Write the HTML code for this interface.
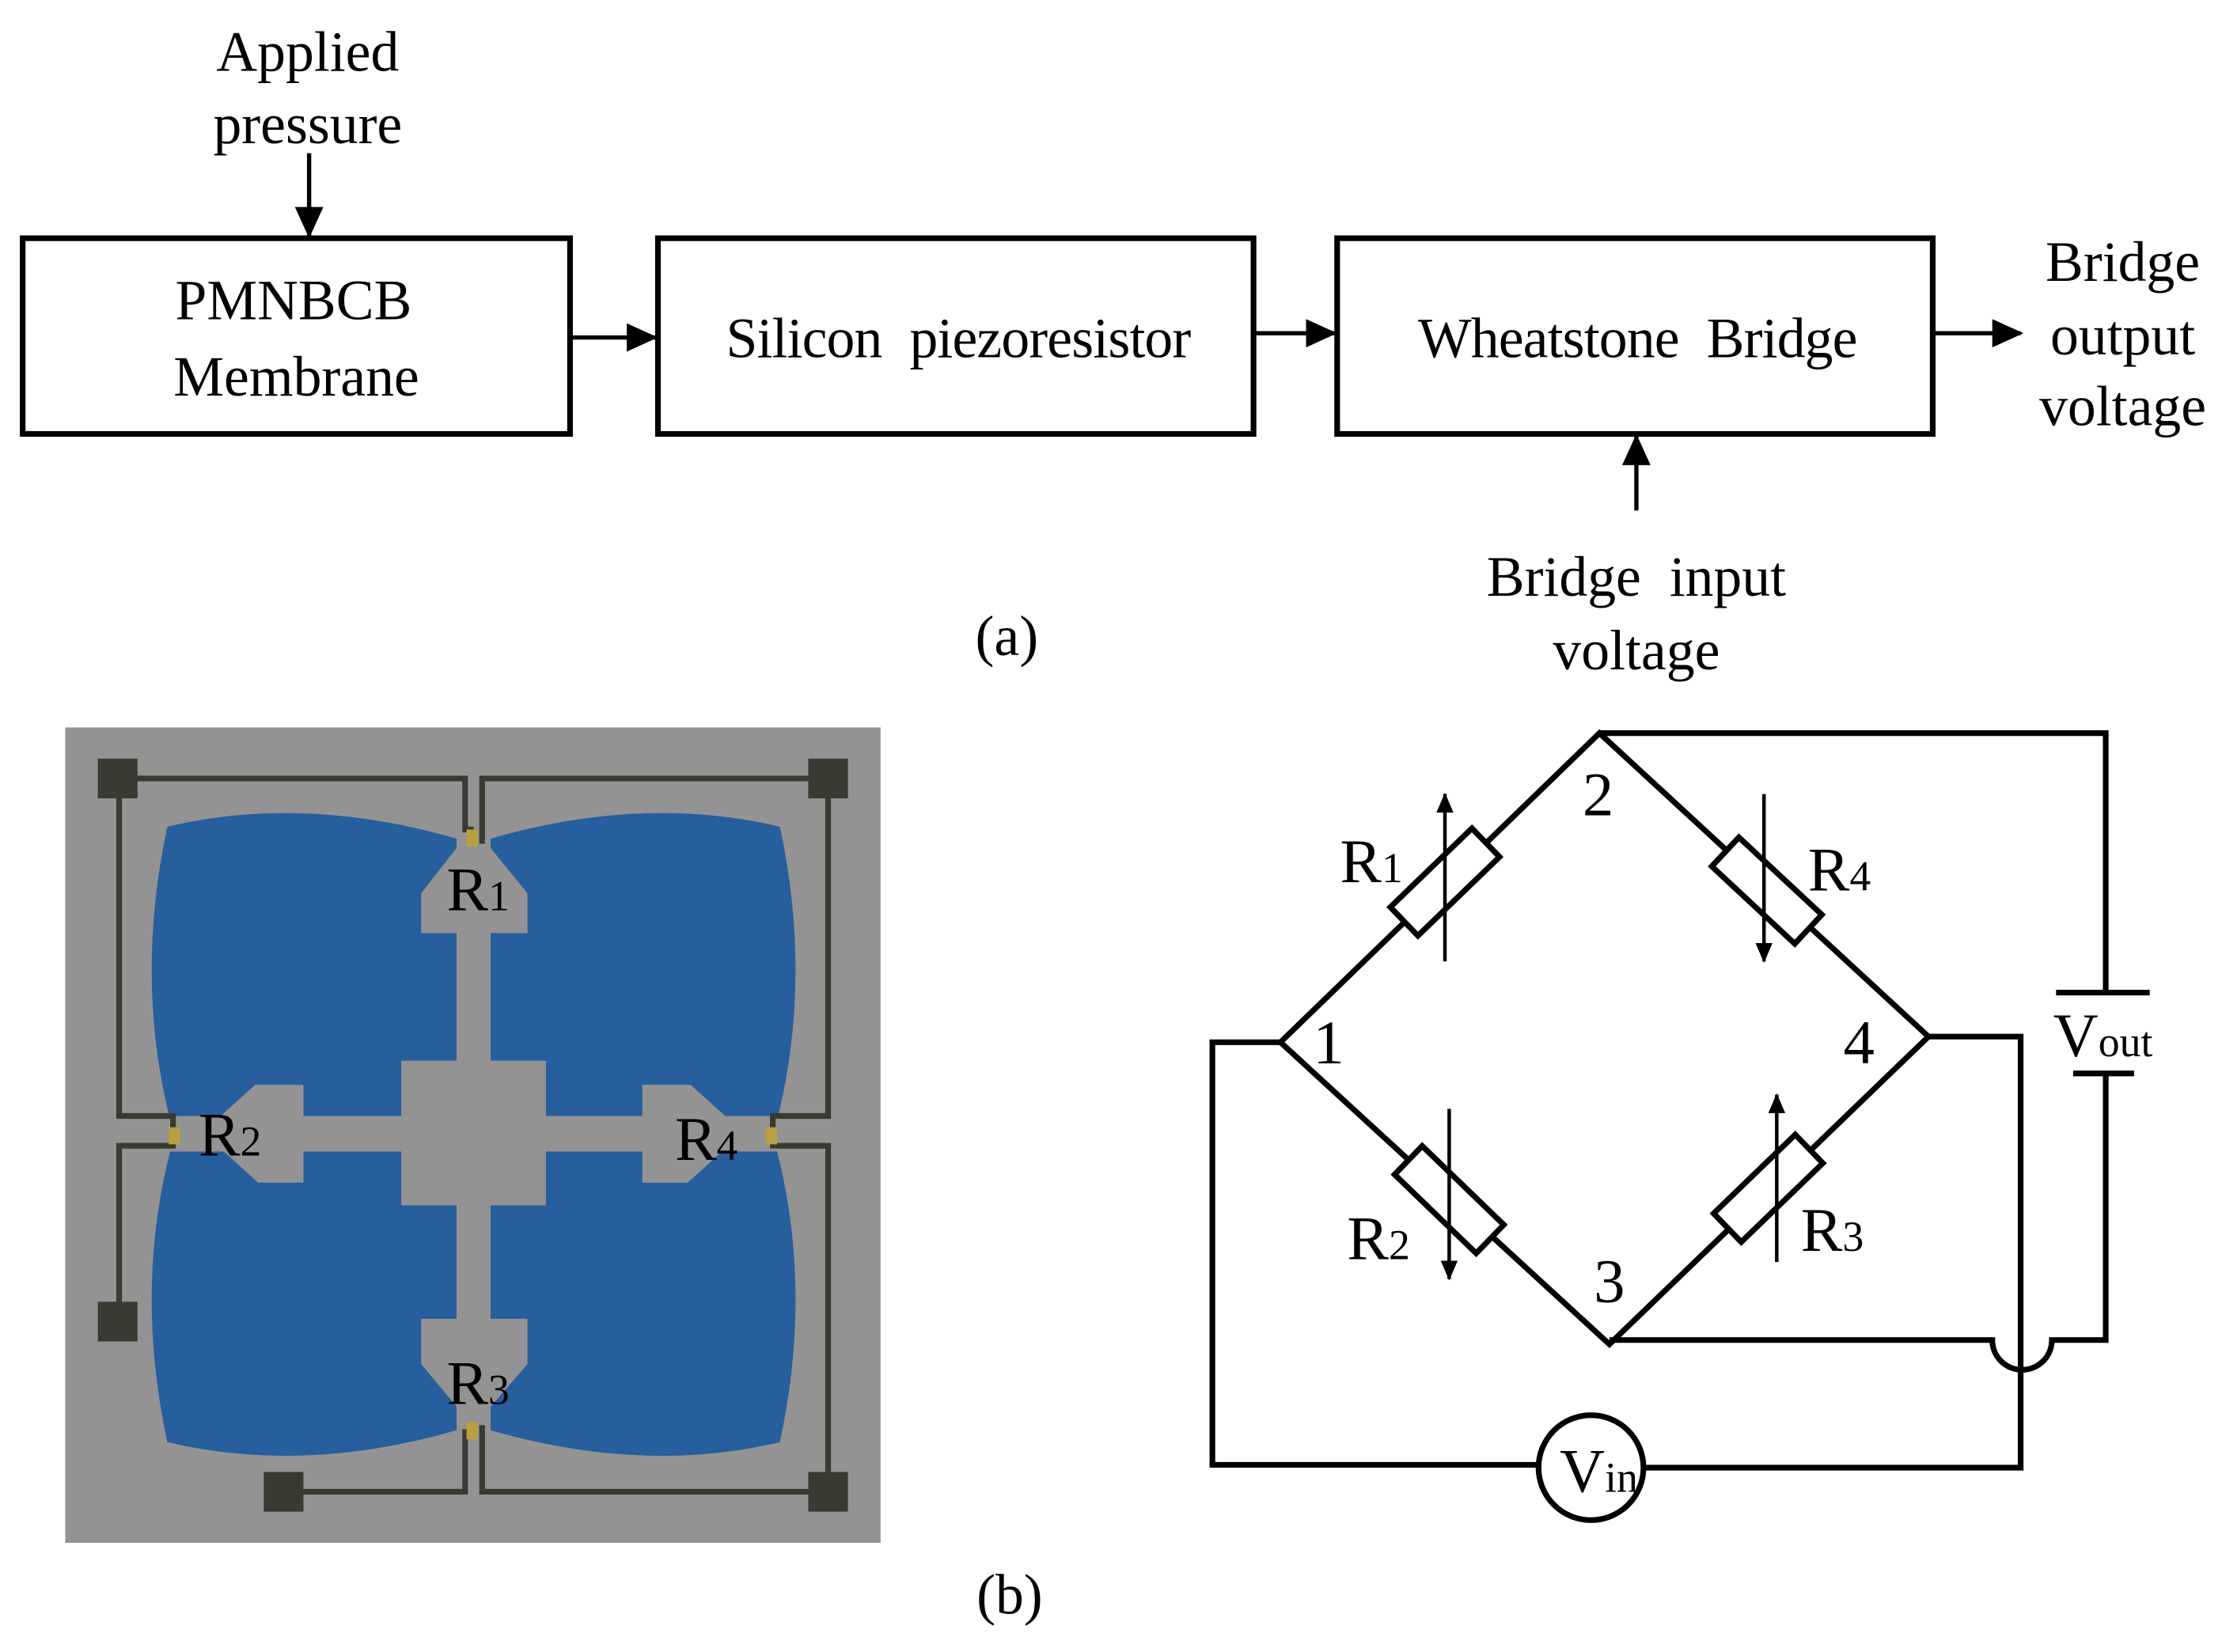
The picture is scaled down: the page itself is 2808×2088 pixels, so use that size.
<!DOCTYPE html>
<html><head><style>html,body{margin:0;padding:0;background:#fff}svg{display:block}</style></head><body>
<svg width="2808" height="2088" viewBox="0 0 1567 1165" preserveAspectRatio="none" xmlns="http://www.w3.org/2000/svg" font-family="Liberation Serif, serif">
<defs>
<marker id="ah" markerWidth="22" markerHeight="20" refX="20" refY="10" orient="auto" markerUnits="userSpaceOnUse"><path d="M0,0 L22,10 L0,20Z"/></marker>
<marker id="as" markerWidth="14" markerHeight="12" refX="13" refY="6" orient="auto" markerUnits="userSpaceOnUse"><path d="M0,0 L14,6 L0,12Z"/></marker></defs>
<g font-size="40" fill="#000">
<text x="217" y="50" text-anchor="middle">Applied</text>
<text x="217" y="101" text-anchor="middle">pressure</text>
<text x="207" y="225" text-anchor="middle">PMNBCB</text>
<text x="209" y="279" text-anchor="middle">Membrane</text>
<text x="676" y="252" text-anchor="middle" word-spacing="10" textLength="328">Silicon piezoresistor</text>
<text x="1155" y="252" text-anchor="middle" word-spacing="10" textLength="310">Wheatstone Bridge</text>
<text x="1497" y="198" text-anchor="middle">Bridge</text>
<text x="1497" y="250" text-anchor="middle">output</text>
<text x="1497" y="300" text-anchor="middle">voltage</text>
<text x="1154" y="420" text-anchor="middle" word-spacing="10">Bridge input</text>
<text x="1154" y="472" text-anchor="middle">voltage</text>
<text x="710" y="462" text-anchor="middle">(a)</text>
<text x="712" y="1138" text-anchor="middle">(b)</text>
</g>
<g fill="none" stroke="#000" stroke-width="4">
<rect x="16" y="168" width="386" height="138"/>
<rect x="464" y="168" width="420" height="138"/>
<rect x="943" y="168" width="420" height="138"/>
<line x1="218" y1="108" x2="218" y2="166" stroke-width="3" marker-end="url(#ah)"/>
<line x1="402" y1="238" x2="462" y2="238" stroke-width="3" marker-end="url(#ah)"/>
<line x1="884" y1="235" x2="941" y2="235" stroke-width="3" marker-end="url(#ah)"/>
<line x1="1363" y1="235" x2="1425" y2="235" stroke-width="3" marker-end="url(#ah)"/>
<line x1="1154" y1="360" x2="1154" y2="308" stroke-width="3" marker-end="url(#ah)"/>
</g>
<rect x="46" y="513" width="575" height="575" fill="#939393"/>
<g fill="#275e9d">
<path d="M118,583 Q215,560 324,592 L324,790 L120,790 Q95,690 118,583Z"/>
<path d="M550,583 Q453,560 344,592 L344,790 L548,790 Q573,690 550,583Z"/>
<path d="M118,1017 Q215,1040 324,1008 L324,812 L120,812 Q95,910 118,1017Z"/>
<path d="M550,1017 Q453,1040 344,1008 L344,812 L548,812 Q573,910 550,1017Z"/>
</g>
<g fill="#939393">
<rect x="322" y="585" width="24" height="440"/>
<rect x="118" y="787" width="432" height="25"/>
<rect x="283" y="748" width="102" height="102"/>
<path d="M322,598 L346,598 L372,630 L372,658 L297,658 L297,630Z"/>
<path d="M297,930 L372,930 L372,962 L346,992 L322,992 L297,962Z"/>
<path d="M214,765 L214,834 L182,834 L150,805 L150,792 L180,765Z"/>
<path d="M453,765 L453,834 L485,834 L517,805 L517,792 L487,765Z"/>
</g>
<g fill="none" stroke="#3a3a33" stroke-width="4">
<path d="M84,549 L328,549 L328,585 L334,585"/>
<path d="M584,549 L340,549 L340,595"/>
<path d="M84,549 L84,787 L122,787 L122,795"/>
<path d="M84,932 L84,808 L122,808 L122,800"/>
<path d="M584,549 L584,787 L545,787 L545,795"/>
<path d="M584,1052 L584,808 L545,808 L545,800"/>
<path d="M200,1052 L328,1052 L328,1010 L334,1010"/>
<path d="M584,1052 L340,1052 L340,1005"/>
</g>
<g fill="#3a3a33">
<rect x="69" y="535" width="28" height="28"/><rect x="570" y="535" width="28" height="28"/>
<rect x="69" y="918" width="28" height="28"/><rect x="186" y="1038" width="28" height="28"/>
<rect x="570" y="1038" width="28" height="28"/>
</g>
<g fill="#b8a040"><rect x="329" y="585" width="8" height="12"/><rect x="329" y="1003" width="8" height="12"/><rect x="119" y="795" width="8" height="12"/><rect x="540" y="795" width="8" height="12"/></g>
<g font-size="44" fill="#000">
<text x="315" y="642">R<tspan font-size="30">1</tspan></text>
<text x="140" y="815">R<tspan font-size="30">2</tspan></text>
<text x="315" y="990">R<tspan font-size="30">3</tspan></text>
<text x="476" y="818">R<tspan font-size="30">4</tspan></text>
</g>
<g fill="none" stroke="#000" stroke-width="4">
<path d="M903,735 L1128,517 L1360,731 L1135,948 Z"/>
<path d="M1128,517 L1485,517 L1485,700"/>
<path d="M1485,757 L1485,945 L1447,945 A21,21 0 0 1 1405,945 L1135,945"/>
<path d="M903,735 L855,735 L855,1033 L1085,1033"/>
<path d="M1159,1035 L1425,1035 L1425,731 L1360,731"/>
<line x1="1450" y1="700" x2="1516" y2="700"/>
<line x1="1462" y1="757" x2="1505" y2="757"/>
<circle cx="1122" cy="1035" r="37" fill="#fff"/>
<g fill="#fff">
<rect x="-40" y="-14" width="80" height="28" transform="translate(1019,622) rotate(-44)"/>
<rect x="-40" y="-14" width="80" height="28" transform="translate(1246,628) rotate(43)"/>
<rect x="-40" y="-14" width="80" height="28" transform="translate(1022,846) rotate(44)"/>
<rect x="-40" y="-14" width="80" height="28" transform="translate(1247,838) rotate(-44)"/>
</g>
<g stroke-width="2.5">
<line x1="1019" y1="678" x2="1019" y2="560" marker-end="url(#as)"/>
<line x1="1244" y1="560" x2="1244" y2="678" marker-end="url(#as)"/>
<line x1="1022" y1="782" x2="1022" y2="902" marker-end="url(#as)"/>
<line x1="1253" y1="890" x2="1253" y2="772" marker-end="url(#as)"/>
</g>
</g>
<g font-size="44" fill="#000">
<text x="945" y="622">R<tspan font-size="30">1</tspan></text>
<text x="1275" y="628">R<tspan font-size="30">4</tspan></text>
<text x="950" y="888">R<tspan font-size="30">2</tspan></text>
<text x="1270" y="882">R<tspan font-size="30">3</tspan></text>
<text x="1116" y="575">2</text>
<text x="926" y="750">1</text>
<text x="1300" y="750">4</text>
<text x="1124" y="918">3</text>
<text x="1448" y="745">V<tspan font-size="30">out</tspan></text>
<text x="1100" y="1052">V<tspan font-size="30">in</tspan></text>
</g>
</svg>
</body></html>
